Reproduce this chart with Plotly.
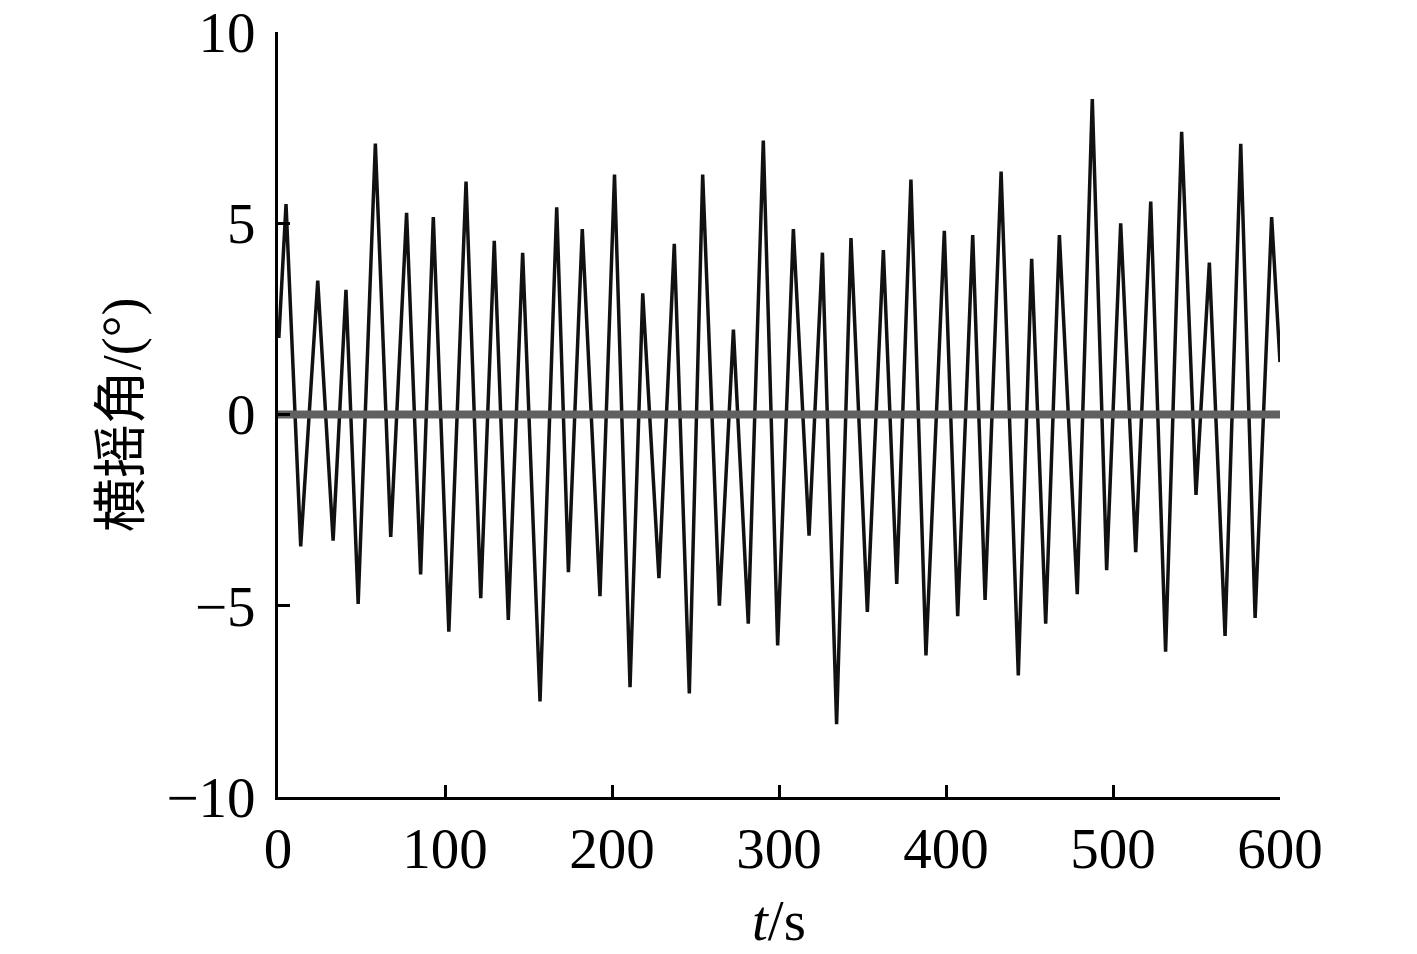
import plotly.graph_objects as go

# roll angle time history (extrema of each half-cycle)
t = [0.5, 4.8, 13.6, 23.8, 33.0, 40.7, 48.0, 58.3, 67.5, 77.0, 85.4, 93.0,
     102.3, 112.6, 121.4, 129.5, 137.9, 146.5, 156.9, 166.9, 173.9, 182.2,
     192.8, 201.5, 210.8, 218.4, 228.1, 237.3, 246.3, 254.3, 264.3, 272.7,
     281.6, 290.6, 299.2, 308.6, 318.0, 326.0, 334.5, 343.1, 352.9, 362.5,
     370.5, 379.0, 388.0, 399.0, 407.0, 416.0, 423.4, 433.0, 443.3, 451.3,
     459.7, 467.9, 478.6, 487.6, 496.2, 504.6, 513.6, 522.6, 531.5, 541.1,
     549.7, 557.7, 567.1, 576.5, 585.1, 595.0, 600.0]
roll = [2.0, 5.5, -3.45, 3.5, -3.3, 3.26, -4.95, 7.08, -3.2, 5.27, -4.18, 5.16,
        -5.68, 6.09, -4.8, 4.54, -5.37, 4.23, -7.5, 5.42, -4.12, 4.85,
        -4.75, 6.27, -7.13, 3.17, -4.28, 4.46, -7.29, 6.27, -5.0, 2.22,
        -5.47, 7.16, -6.04, 4.85, -3.17, 4.23, -8.1, 4.61, -5.16, 4.3,
        -4.43, 6.14, -6.3, 4.8, -5.27, 4.69, -4.85, 6.35, -6.82, 4.07,
        -5.47, 4.69, -4.7, 8.25, -4.07, 5.0, -3.6, 5.57, -6.2, 7.39,
        -2.1, 3.97, -5.79, 7.08, -5.32, 5.16, 1.37]

# the grey reference line at zero
zero_t = [0, 600]
zero_v = [0, 0]

x_ticks = [0, 100, 200, 300, 400, 500, 600]
y_ticks = [-10, -5, 0, 5, 10]

font = "Liberation Serif, Times New Roman, Noto Sans CJK SC"

fig = go.Figure()
fig.add_trace(go.Scatter(x=t, y=roll, mode="lines",
                         line=dict(color="#111111", width=3.5),
                         showlegend=False))
fig.add_trace(go.Scatter(x=zero_t, y=zero_v, mode="lines",
                         line=dict(color="#606060", width=8),
                         cliponaxis=False, showlegend=False))

axis_common = dict(showline=True, linecolor="black", linewidth=3,
                   ticks="inside", ticklen=12, tickwidth=3, tickcolor="black",
                   showgrid=False, zeroline=False, automargin=False,
                   ticklabeloverflow="allow",
                   tickfont=dict(family=font, size=57, color="black"))

fig.update_xaxes(range=[-0.001, 600.001], tickvals=x_ticks,
                 **axis_common)
fig.update_yaxes(range=[-10.0001, 10.0001], tickvals=y_ticks,
                 ticklabelstandoff=8, **axis_common)

fig.add_annotation(text="<i>t</i>/s", xref="paper", yref="paper",
                   x=0.5, y=-0.161, xanchor="center", yanchor="middle",
                   showarrow=False, font=dict(family=font, size=57, color="black"))
fig.add_annotation(text="横摇角/(°)", xref="paper", yref="paper",
                   x=-0.156, y=0.5, xanchor="center", yanchor="middle",
                   textangle=-90, showarrow=False,
                   font=dict(family=font, size=54, color="black"))

# page body adds ~8px, so margins are shifted by that much
fig.update_layout(width=1417, height=954,
                  margin=dict(l=270, r=145, t=24, b=165),
                  plot_bgcolor="white", paper_bgcolor="white")

fig.write_html("out.html")
